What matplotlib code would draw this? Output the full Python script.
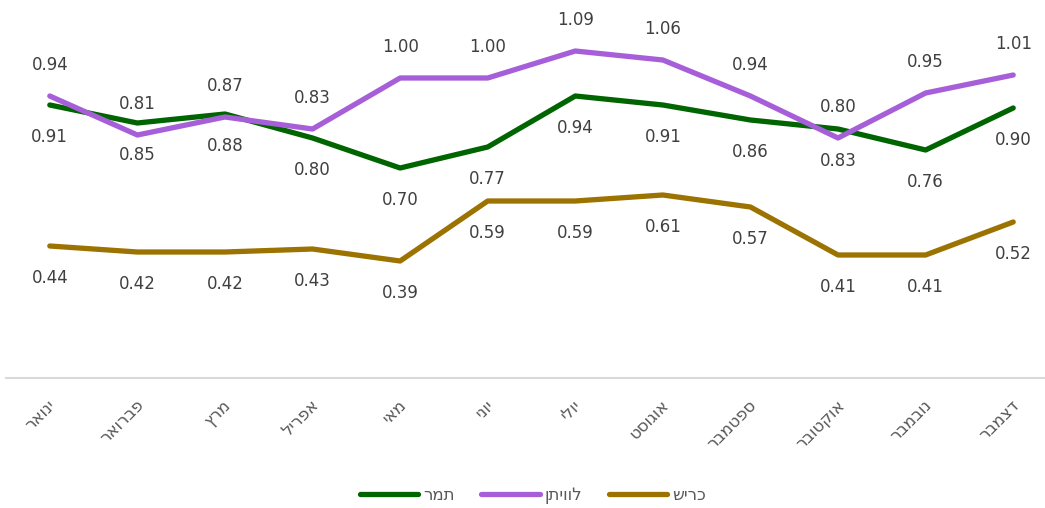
import matplotlib
matplotlib.use('Agg')
import matplotlib.pyplot as plt
import matplotlib.transforms as mtransforms

plt.rcParams['font.family'] = ['DejaVu Sans']

# Hebrew strings in logical order; reversed when drawn (matplotlib has no bidi)
months = ['ינואר', 'פברואר', 'מרץ', 'אפריל', 'מאי', 'יוני',
          'יולי', 'אוגוסט', 'ספטמבר', 'אוקטובר', 'נובמבר', 'דצמבר']
tamar = [0.91, 0.85, 0.88, 0.80, 0.70, 0.77, 0.94, 0.91, 0.86, 0.83, 0.76, 0.90]
leviathan = [0.94, 0.81, 0.87, 0.83, 1.00, 1.00, 1.09, 1.06, 0.94, 0.80, 0.95, 1.01]
karish = [0.44, 0.42, 0.42, 0.43, 0.39, 0.59, 0.59, 0.61, 0.57, 0.41, 0.41, 0.52]
names = ['תמר', 'לוויתן', 'כריש']


def rtl(s):
    return s[::-1]


fig = plt.figure(figsize=(10.45, 5.08), dpi=100)
ax = fig.add_axes([6 / 1045, 130 / 508, 1051 / 1045, 360 / 508])

x = list(range(len(months)))
series = [
    (tamar, '#006400', -23),
    (leviathan, '#A65FD9', 22),
    (karish, '#9C7300', -23),
]
for (vals, color, off), name in zip(series, names):
    ax.plot(x, vals, color=color, lw=3.8, solid_capstyle='round',
            solid_joinstyle='round', label=rtl(name))
    for xi, v in zip(x, vals):
        ax.annotate(f'{v:.2f}', (xi, v), xytext=(0, off), textcoords='offset points',
                    ha='center', va='center', fontsize=12, color='#404040')

ax.set_xlim(-0.5, 11.5)
ax.set_ylim(0, 1.2)
ax.set_xticks(x)
ax.set_xticklabels([rtl(m) for m in months], rotation=45, ha='right', va='top',
                   rotation_mode='anchor', fontsize=12, color='#595959')
ax.tick_params(axis='x', length=0, pad=13)
shift = mtransforms.ScaledTranslation(-3 / 100, 0, fig.dpi_scale_trans)
for lab in ax.get_xticklabels():
    lab.set_transform(lab.get_transform() + shift)
ax.set_yticks([])
for side in ['top', 'right', 'left']:
    ax.spines[side].set_visible(False)
ax.spines['bottom'].set_color('#D9D9D9')
ax.spines['bottom'].set_linewidth(1.5)

leg = fig.legend(loc='center', bbox_to_anchor=(533 / 1045, 1 - 495 / 508), ncol=3,
                 frameon=False, fontsize=12, handlelength=3.5, handletextpad=0.3,
                 columnspacing=1.6, labelcolor='#595959')

fig.savefig('out.png', dpi=100)
